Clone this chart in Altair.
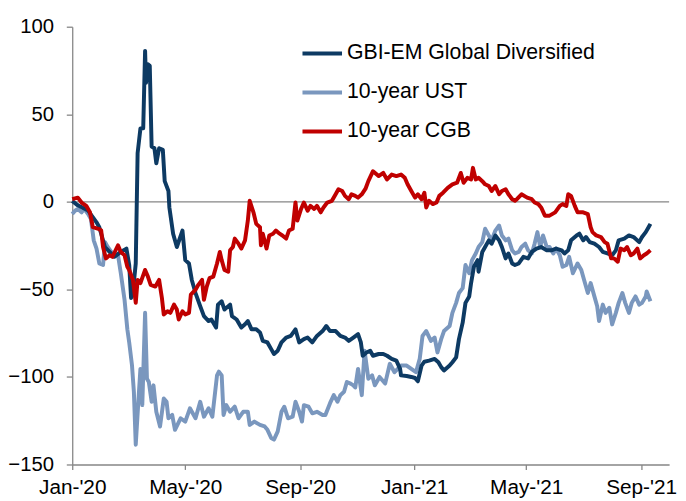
import altair as alt
import pandas as pd

START = "2020-01-01"
SERIES = ["GBI-EM Global Diversified", "10-year UST", "10-year CGB"]
COLORS = ["#0D3A63", "#7A97BE", "#C00000"]
Y_TICKS = [-150, -100, -50, 0, 50, 100]
X_TICKS = ["2020-01-01", "2020-05-01", "2020-09-01", "2021-01-01", "2021-05-01", "2021-09-01"]

# (days since 2020-01-01, change in bp)
em = [(0, 0.5), (6, -2), (17, -5), (26, -11.7), (29, -14.5), (35, -25.8), (40, -28.6), (45, -31.4), (52, -28.6), (58, -26.7),
      (61, -36.1), (63, -54.9), (65, -51.2), (68, -35.2), (70, 27.8), (73, 41.9), (76, 42), (78, 86.2), (79, 68), (81, 78.6),
      (83, 77.7), (85, 31.6), (88, 30.6), (90, 22), (93, 30.6), (97, 29.7), (99, 11.8), (103, 6.2), (104, -3.2), (108, -18.2),
      (112, -25.8), (118, -16.4), (121, -33.3), (125, -35.2), (128, -44.6), (132, -52.1), (137, -59.6), (141, -65.3), (146, -68.1), (149, -67.2),
      (154, -71.8), (156, -58.7), (160, -56.8), (163, -61.5), (169, -58.7), (171, -65.3), (176, -67.2), (181, -71.8), (185, -69.9), (188, -68.1),
      (192, -72.8), (197, -72.8), (201, -74.6), (204, -79.4), (209, -80.3), (213, -84.1), (216, -86.9), (220, -85), (224, -80.3), (229, -77.5),
      (234, -76.6), (239, -72.8), (243, -80.3), (248, -78.4), (252, -77.5), (257, -80.3), (262, -76.6), (268, -73.8), (272, -70.9), (276, -73.8),
      (282, -73.8), (287, -76.6), (292, -77.5), (296, -79.4), (301, -77.5), (306, -75.6), (309, -80.3), (311, -87.9), (315, -86), (319, -85),
      (322, -87.9), (328, -86.9), (333, -86.9), (337, -87.9), (342, -89.7), (347, -90.7), (351, -95.4), (352, -99.1), (358, -99.5), (363, -100),
      (367, -100.6), (370, -102.5), (374, -93.5), (377, -91.3), (382, -90.7), (388, -89.7), (392, -91.6), (395, -94.4), (398, -96.3), (404, -93.5),
      (407, -91.6), (411, -88.8), (414, -78.4), (418, -69), (421, -57.7), (425, -54), (427, -46.4), (430, -37.1), (434, -33.3), (435, -39.9),
      (439, -28.6), (442, -25.8), (446, -22), (449, -23.9), (453, -19.2), (457, -22), (460, -25.8), (464, -32.3), (467, -29.5), (471, -35.2),
      (474, -36.1), (478, -35.2), (483, -31.4), (488, -32.3), (492, -28.6), (497, -26.7), (502, -25.8), (508, -27.7), (513, -27.7), (518, -26.7),
      (524, -27.7), (527, -29.5), (531, -27.7), (534, -22), (540, -19.2), (543, -18.2), (547, -22), (550, -20.1), (554, -23), (559, -23.9),
      (564, -25.8), (568, -28.6), (573, -29.5), (578, -30.5), (582, -27.7), (585, -22), (591, -21), (596, -19.2), (601, -20.1), (607, -23),
      (610, -20.1), (614, -17.3), (617, -14.5), (619, -12.6)]

ust = [(0, -7), (3, -5.1), (6, -4.1), (10, -6), (13, -4.1), (17, -7), (20, -9.8), (23, -22), (26, -26.7), (29, -35.2),
       (33, -36.1), (35, -23), (38, -25.8), (43, -29.5), (49, -30.5), (52, -40.8), (56, -55.9), (59, -72.8), (61, -80.3), (64, -93.5),
       (66, -108.5), (68, -138.7), (71, -112.3), (73, -95.4), (75, -116.1), (78, -63.4), (80, -101), (82, -102.9), (85, -114.2), (87, -104.8),
       (90, -119.9), (94, -128.3), (98, -112.3), (101, -114.2), (103, -123.6), (107, -121.7), (110, -130.2), (116, -123.6), (121, -125.5), (126, -117.9),
       (132, -123.6), (137, -114.2), (141, -122.7), (146, -117.9), (150, -122.7), (155, -99.1), (157, -97), (160, -99.1), (162, -121.7), (165, -116.1),
       (169, -119.9), (174, -117), (178, -123.6), (183, -119.9), (188, -119.9), (190, -127.4), (195, -125.5), (201, -127.4), (206, -128.3), (209, -130.2),
       (213, -134.9), (216, -135.8), (220, -131.1), (224, -119.9), (227, -117), (231, -123.6), (236, -122.7), (239, -114.2), (243, -119.9), (246, -125.5),
       (248, -116.1), (253, -117), (257, -120.8), (262, -119.9), (268, -121.7), (271, -121.7), (276, -115), (280, -110.4), (284, -114.2), (287, -110.4),
       (291, -108.5), (294, -102.9), (298, -103.8), (301, -104.8), (303, -106), (306, -95.4), (310, -110.4), (313, -85), (317, -101), (321, -99.1),
       (324, -104.8), (329, -100), (335, -103.8), (340, -92.5), (345, -97.3), (352, -93.5), (358, -93.5), (363, -95.4), (368, -97.3), (372, -89.7),
       (375, -76.6), (379, -73.8), (384, -79.4), (388, -77.5), (391, -86), (395, -78.4), (398, -73.8), (404, -70.9), (407, -63.4), (411, -57.7),
       (414, -52.1), (418, -49.3), (421, -36.1), (425, -40.8), (428, -33.3), (432, -29.5), (435, -25.8), (439, -23), (442, -15.4), (446, -19.2),
       (449, -22), (453, -16.4), (457, -13.5), (460, -19.2), (464, -22), (467, -21), (471, -27.7), (474, -29.5), (478, -28.6), (481, -25.8),
       (485, -23.9), (488, -27.7), (492, -29.5), (495, -23.9), (498, -17.3), (501, -25.8), (504, -19.2), (508, -25.8), (511, -25.8), (515, -29.5),
       (518, -26.7), (522, -30.5), (525, -37.1), (529, -36.1), (532, -31.4), (536, -40.8), (541, -35.2), (545, -38.9), (548, -44.6), (552, -52.1),
       (555, -46.4), (559, -54), (562, -59.6), (564, -68.1), (568, -58.7), (571, -63.4), (575, -60.5), (578, -70), (582, -63.4), (585, -57.7),
       (589, -52.1), (592, -57.7), (596, -63.4), (599, -57.7), (603, -54), (607, -58.7), (610, -57.7), (614, -54), (615, -51.2), (619, -56.8)]

cgb = [(0, 1.5), (6, 2.4), (10, -0.4), (15, -2.3), (19, -6), (22, -14.5), (28, -15.4), (31, -16.4), (33, -25.8), (36, -32.3),
       (40, -30.5), (43, -31.4), (49, -24.8), (52, -28.6), (56, -30.5), (59, -37.1), (61, -38.9), (65, -44.6), (68, -57.7), (70, -44.6),
       (73, -46.4), (78, -38.9), (81, -42.7), (84, -47.4), (89, -48.4), (93, -44.6), (96, -54.9), (98, -64.3), (102, -62.5), (105, -63.4),
       (109, -58.7), (112, -61.5), (114, -67.2), (118, -62.5), (121, -64.3), (125, -63.4), (127, -53), (132, -50.2), (135, -47.4), (139, -44.6),
       (141, -55.9), (144, -48.4), (147, -43.6), (151, -42.7), (155, -35.2), (158, -28.6), (160, -33.3), (163, -38.9), (167, -39.9), (169, -27.7),
       (172, -25.8), (174, -21), (178, -23.9), (181, -26.7), (185, -22), (188, -10.7), (190, 0.6), (194, -6), (197, -12.6), (201, -14.5),
       (202, -24.8), (204, -18.2), (208, -26.7), (211, -19.2), (215, -18.2), (218, -16.4), (222, -18.2), (225, -19.2), (229, -21), (232, -16.4),
       (236, -15.4), (239, -0.4), (241, -10.7), (245, -4.1), (248, -0.4), (252, -5.1), (255, -2.3), (259, -4.1), (262, -2.3), (266, -6),
       (269, -3.2), (273, -0.4), (278, 0.6), (282, 4.3), (285, 7.2), (289, 6.2), (292, 3.4), (296, 1.5), (299, 4.3), (303, 3.4),
       (306, 2.4), (310, 4.3), (314, 7.5), (317, 11.8), (322, 17.5), (328, 14.7), (333, 16.5), (337, 12.8), (342, 15.6), (347, 14.7),
       (352, 15.6), (356, 13.7), (359, 10), (363, 6.2), (367, 2.4), (370, 4.3), (374, 1.5), (377, 5.2), (379, -3.2), (382, 0.6),
       (386, -1.3), (390, -0.4), (393, 3.4), (397, 5.2), (402, 8), (407, 10), (412, 10.9), (416, 16.5), (419, 10.9), (423, 13.7),
       (427, 12.8), (429, 19.4), (432, 12.8), (435, 13.7), (439, 11.8), (442, 10), (446, 9), (449, 6.2), (453, 9), (457, 4.3),
       (460, 6.2), (464, 7.2), (467, 4.3), (471, 1.5), (474, 0.6), (476, 1.5), (481, 4.3), (487, 2.4), (492, 1.5), (495, -0.4),
       (499, -1.3), (502, -3.2), (506, -7.9), (511, -7.9), (517, -6), (522, -2.3), (525, -1.3), (529, -2.3), (531, 4.3), (534, 3.4),
       (538, -2.3), (541, -6), (547, -6), (552, -7), (555, -14.5), (557, -17.3), (561, -19.2), (566, -20.1), (570, -23), (573, -23.9),
       (577, -32.3), (580, -32.3), (584, -34.2), (587, -26.7), (591, -27.7), (594, -25.8), (598, -30.5), (601, -29.5), (605, -26.7), (608, -32.3),
       (612, -30.5), (615, -29.5), (619, -27.7)]


def frame(pairs, name):
    df = pd.DataFrame(pairs, columns=["day", "value"])
    df["date"] = pd.Timestamp(START) + pd.to_timedelta(df["day"], unit="D")
    df["series"] = name
    return df[["date", "value", "series"]]


data = pd.concat([frame(em, SERIES[0]), frame(ust, SERIES[1]), frame(cgb, SERIES[2])], ignore_index=True)

FONT = "Liberation Sans"
AXIS_GREY = "#868686"

x_enc = alt.X(
    "date:T",
    title=None,
    scale=alt.Scale(domain=[alt.DateTime(year=2020, month=1, date=1), alt.DateTime(year=2021, month=10, date=1)]),
    axis=alt.Axis(
        values=[alt.DateTime(year=int(s[:4]), month=int(s[5:7]), date=1) for s in X_TICKS],
        format="%b-'%y", labelFont=FONT, labelFontSize=21, labelColor="#000000",
        tickSize=5, tickColor=AXIS_GREY, domainColor=AXIS_GREY, domainWidth=1.3, tickWidth=1.3,
        labelPadding=7, grid=False, labelFlush=False, labelOverlap=False,
    ),
)
y_scale = alt.Scale(domain=[-150, 100], nice=False, zero=False)
y_enc = alt.Y(
    "value:Q",
    title=None,
    scale=y_scale,
    axis=alt.Axis(
        values=Y_TICKS, labelFont=FONT, labelFontSize=20.5, labelColor="#000000",
        tickSize=6, tickColor=AXIS_GREY, domainColor=AXIS_GREY, domainWidth=1.3, tickWidth=1.3,
        labelPadding=13, grid=False,
    ),
)
color_enc = alt.Color(
    "series:N",
    scale=alt.Scale(domain=SERIES, range=COLORS),
    legend=alt.Legend(
        title=None, orient="none", legendX=231, legendY=5, padding=0,
        symbolType="stroke", symbolSize=1600, symbolStrokeWidth=4,
        labelFont=FONT, labelFontSize=21.5, labelColor="#000000", labelOffset=3,
        rowPadding=6.5, labelLimit=400,
    ),
)

zero_rule = alt.Chart(pd.DataFrame({"value": [0]})).mark_rule(color=AXIS_GREY, strokeWidth=1.3).encode(
    y=alt.Y("value:Q", scale=y_scale)
)

base = alt.Chart(data).mark_line(strokeWidth=4, strokeJoin="round").encode(x=x_enc, y=y_enc, color=color_enc)

layers = [zero_rule]
for name in [SERIES[1], SERIES[0], SERIES[2]]:
    layers.append(base.transform_filter(alt.datum.series == name))

chart = alt.layer(*layers).properties(
    width=604, height=443,
    autosize=alt.AutoSizeParams(type="none"),
    padding={"left": 65, "top": 16, "right": 9, "bottom": 34},
    background="white",
).configure_view(stroke=None)

chart.save("out.html", embed_options={"renderer": "svg", "actions": False})
